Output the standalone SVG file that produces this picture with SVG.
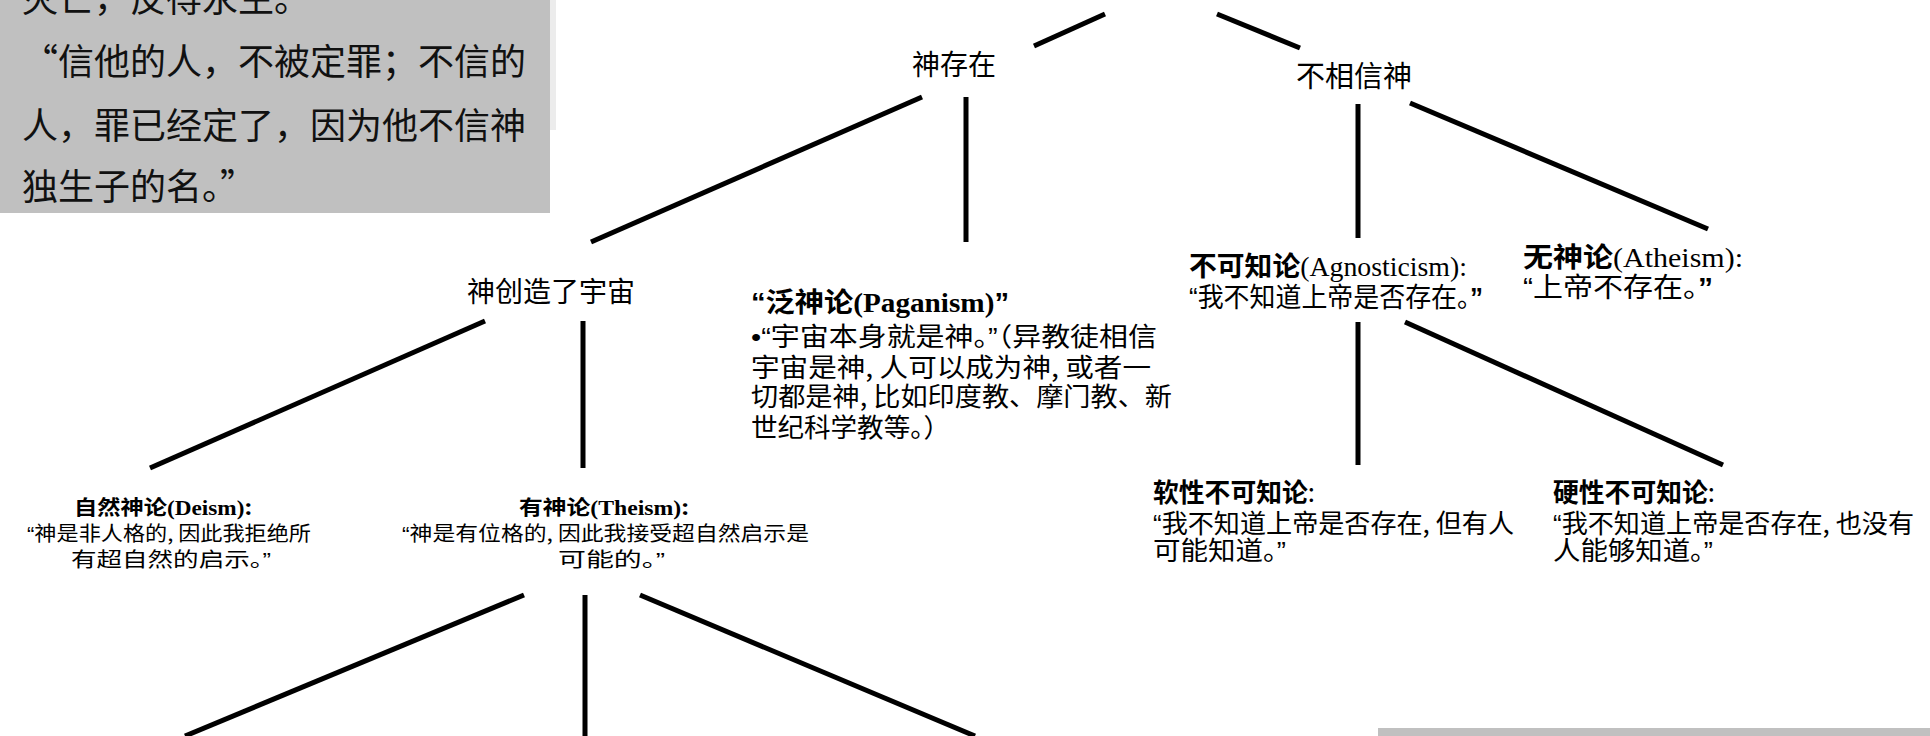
<svg xmlns="http://www.w3.org/2000/svg" width="1930" height="736" viewBox="0 0 1930 736">
<style>
.cjk{font-family:"Noto Sans CJK SC","Noto Sans",sans-serif;fill:#000}
.b{font-weight:700}
.ser{font-family:"Liberation Serif","Noto Sans CJK SC",serif}
.q{font-family:"Liberation Sans","Noto Sans CJK SC",sans-serif}
.conn line{stroke:#000;stroke-width:5}
.panel{fill:#c0c0c0}
.verse{font-family:"Noto Sans CJK SC",sans-serif;font-size:36px;fill:#111}
</style>
<rect width="1930" height="736" fill="#fff"/>
<g id="verse-box">
<rect class="panel" x="0" y="0" width="550" height="213"/>
<rect x="550" y="0" width="6" height="130" fill="#ececec"/>
<text class="verse" x="22" y="12">灭亡，反得永生。</text>
<text class="verse" x="22" y="75">“信他的人，不被定罪；不信的</text>
<text class="verse" x="22" y="139">人，罪已经定了，因为他不信神</text>
<text class="verse" x="22" y="200">独生子的名。”</text>
</g>
<g id="connectors" class="conn">
<line x1="1034" y1="46" x2="1105" y2="14"/>
<line x1="1217" y1="14" x2="1300" y2="48"/>
<line x1="922" y1="97" x2="591" y2="242"/>
<line x1="966" y1="97" x2="966" y2="242"/>
<line x1="1358" y1="104" x2="1358" y2="238"/>
<line x1="1410" y1="103" x2="1708" y2="229"/>
<line x1="485" y1="321" x2="150" y2="468"/>
<line x1="583" y1="321" x2="583" y2="468"/>
<line x1="1358" y1="322" x2="1358" y2="465"/>
<line x1="1405" y1="322" x2="1723" y2="465"/>
<line x1="524" y1="595" x2="185" y2="736"/>
<line x1="585" y1="595" x2="585" y2="736"/>
<line x1="640" y1="595" x2="975" y2="736"/>
</g>
<g id="god-exists"><text class="cjk" x="954" y="75" font-size="28" text-anchor="middle">神存在</text></g>
<g id="not-believe"><text class="cjk" x="1354" y="87" font-size="29" text-anchor="middle">不相信神</text></g>
<g id="god-created"><text class="cjk" x="551" y="302" font-size="28" text-anchor="middle">神创造了宇宙</text></g>
<g id="paganism">
<text class="cjk b" x="751" y="312" font-size="27" textLength="258" lengthAdjust="spacingAndGlyphs"><tspan class="q">“</tspan>泛神论<tspan class="ser">(Paganism)</tspan><tspan class="q">”</tspan></text>
<text class="cjk" x="751" y="346" font-size="26" textLength="406" lengthAdjust="spacingAndGlyphs"><tspan class="q">•“</tspan>宇宙本身就是神。<tspan class="q">”</tspan>（异教徒相信</text>
<text class="cjk" x="751" y="377" font-size="26" textLength="400" lengthAdjust="spacingAndGlyphs">宇宙是神, 人可以成为神, 或者一</text>
<text class="cjk" x="751" y="406" font-size="26" textLength="421" lengthAdjust="spacingAndGlyphs">切都是神, 比如印度教、摩门教、新</text>
<text class="cjk" x="751" y="437" font-size="26" textLength="199" lengthAdjust="spacingAndGlyphs">世纪科学教等。）</text>
</g>
<g id="agnosticism">
<text class="cjk" x="1189" y="276" font-size="27" textLength="278" lengthAdjust="spacingAndGlyphs"><tspan class="b">不可知论</tspan><tspan class="ser">(Agnosticism):</tspan></text>
<text class="cjk" x="1189" y="307" font-size="27" textLength="294" lengthAdjust="spacingAndGlyphs"><tspan class="q">“</tspan>我不知道上帝是否存在。<tspan class="q b">”</tspan></text>
</g>
<g id="atheism">
<text class="cjk" x="1523" y="267" font-size="27" textLength="220" lengthAdjust="spacingAndGlyphs"><tspan class="b">无神论</tspan><tspan class="ser">(Atheism):</tspan></text>
<text class="cjk" x="1523" y="297" font-size="27" textLength="190" lengthAdjust="spacingAndGlyphs"><tspan class="q">“</tspan>上帝不存在。<tspan class="q b">”</tspan></text>
</g>
<g id="soft-agnosticism">
<text class="cjk" x="1153" y="502" font-size="26" textLength="162" lengthAdjust="spacingAndGlyphs"><tspan class="b">软性不可知论</tspan>:</text>
<text class="cjk" x="1153" y="533" font-size="26" textLength="361" lengthAdjust="spacingAndGlyphs"><tspan class="q">“</tspan>我不知道上帝是否存在, 但有人</text>
<text class="cjk" x="1153" y="560" font-size="26" textLength="133" lengthAdjust="spacingAndGlyphs">可能知道。<tspan class="q">”</tspan></text>
</g>
<g id="hard-agnosticism">
<text class="cjk" x="1553" y="502" font-size="26" textLength="162" lengthAdjust="spacingAndGlyphs"><tspan class="b">硬性不可知论</tspan>:</text>
<text class="cjk" x="1553" y="533" font-size="26" textLength="361" lengthAdjust="spacingAndGlyphs"><tspan class="q">“</tspan>我不知道上帝是否存在, 也没有</text>
<text class="cjk" x="1553" y="560" font-size="26" textLength="160" lengthAdjust="spacingAndGlyphs">人能够知道。<tspan class="q">”</tspan></text>
</g>
<g id="deism">
<text class="cjk b" x="74" y="515" font-size="20" textLength="178" lengthAdjust="spacingAndGlyphs">自然神论<tspan class="ser">(Deism)</tspan>:</text>
<text class="cjk" x="27" y="541" font-size="20" textLength="284" lengthAdjust="spacingAndGlyphs"><tspan class="q">“</tspan>神是非人格的, 因此我拒绝所</text>
<text class="cjk" x="71" y="567" font-size="20" textLength="200" lengthAdjust="spacingAndGlyphs">有超自然的启示。<tspan class="q">”</tspan></text>
</g>
<g id="theism">
<text class="cjk b" x="519" y="515" font-size="20" textLength="170" lengthAdjust="spacingAndGlyphs">有神论<tspan class="ser">(Theism)</tspan>:</text>
<text class="cjk" x="402" y="541" font-size="20" textLength="407" lengthAdjust="spacingAndGlyphs"><tspan class="q">“</tspan>神是有位格的, 因此我接受超自然启示是</text>
<text class="cjk" x="558" y="567" font-size="20" textLength="107" lengthAdjust="spacingAndGlyphs">可能的。<tspan class="q">”</tspan></text>
</g>
<rect class="panel" x="1378" y="728" width="552" height="8"/>
</svg>
